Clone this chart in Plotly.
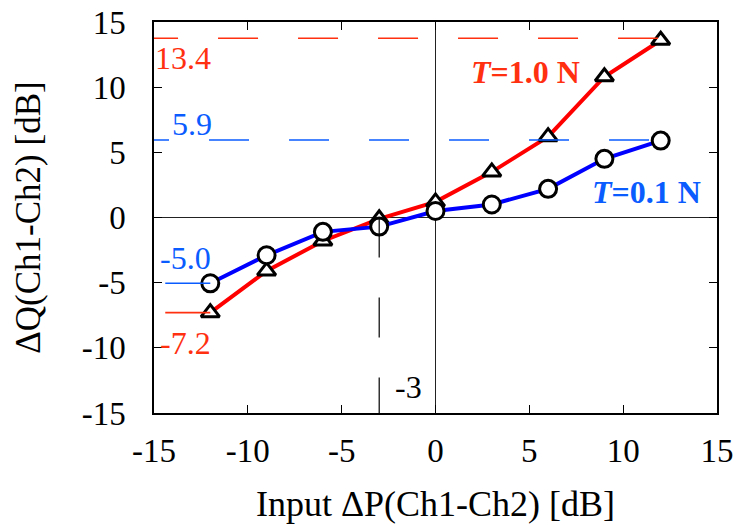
import plotly.graph_objects as go

# ---- data ----
x_input = [-12, -9, -6, -3, 0, 3, 6, 9, 12]
q_t10 = [-7.3, -4.1, -1.8, -0.1, 1.2, 3.5, 6.2, 10.8, 13.6]   # T=1.0 N (triangles)
q_t01 = [-5.05, -2.9, -1.1, -0.7, 0.5, 1.0, 2.2, 4.5, 5.9]    # T=0.1 N (circles)

ref_max_t10 = 13.75
ref_max_t01 = 5.95
ref_min_t10 = -7.3
ref_min_t01 = -5.05
ref_labels = ["13.4", "5.9", "-5.0", "-7.2"]
x_mark = -3
x_ticks = [-15, -10, -5, 0, 5, 10, 15]
y_ticks = [-15, -10, -5, 0, 5, 10, 15]

RED = "#ff0000"
BLUE = "#0000ff"
RED_T = "#ff3010"
BLUE_T = "#0a5cff"
FONT = "Liberation Serif"

fig = go.Figure()

fig.add_trace(go.Scatter(
    x=x_input, y=q_t10, mode="lines+markers",
    line=dict(color=RED, width=4),
    marker=dict(symbol="triangle-up", size=16, color="white",
                line=dict(color="black", width=3)),
    showlegend=False))
fig.add_trace(go.Scatter(
    x=x_input, y=q_t01, mode="lines+markers",
    line=dict(color=BLUE, width=4),
    marker=dict(symbol="circle", size=17, color="white",
                line=dict(color="black", width=3)),
    showlegend=False))

# dashed reference lines (clipped at the plot edge)
fig.add_trace(go.Scatter(x=[-15.85, 12], y=[ref_max_t10, ref_max_t10], mode="lines",
                         line=dict(color=RED_T, width=1.6, dash="40px,40px"),
                         showlegend=False, hoverinfo="skip"))
fig.add_trace(go.Scatter(x=[-16.33, 12], y=[ref_max_t01, ref_max_t01], mode="lines",
                         line=dict(color=BLUE_T, width=1.6, dash="40px,40px"),
                         showlegend=False, hoverinfo="skip"))
fig.add_trace(go.Scatter(x=[-14.4, -12], y=[ref_min_t01, ref_min_t01], mode="lines",
                         line=dict(color=BLUE_T, width=1.6),
                         showlegend=False, hoverinfo="skip"))
fig.add_trace(go.Scatter(x=[-14.4, -12], y=[ref_min_t10, ref_min_t10], mode="lines",
                         line=dict(color=RED_T, width=1.6),
                         showlegend=False, hoverinfo="skip"))
fig.add_trace(go.Scatter(x=[x_mark, x_mark], y=[0, -16], mode="lines",
                         line=dict(color="black", width=1.2, dash="40px,40px"),
                         showlegend=False, hoverinfo="skip"))

ann = [
    dict(x=-13.43, y=12.25, text=ref_labels[0], color=RED_T),
    dict(x=-13.0, y=7.15, text=ref_labels[1], color=BLUE_T),
    dict(x=-13.3, y=-3.08, text=ref_labels[2], color=BLUE_T),
    dict(x=-13.3, y=-9.6, text=ref_labels[3], color=RED_T),
    dict(x=-1.44, y=-13.04, text="-3", color="black"),
    dict(x=4.77, y=11.17, text="<b><i>T</i>=1.0 N</b>", color=RED_T),
    dict(x=11.24, y=1.98, text="<b><i>T</i>=0.1 N</b>", color=BLUE_T),
]
for a in ann:
    fig.add_annotation(x=a["x"], y=a["y"], text=a["text"], showarrow=False,
                       xanchor="center", yanchor="middle",
                       font=dict(family=FONT, size=32, color=a["color"]))

axis_common = dict(
    showgrid=False, ticks="inside", ticklen=8, tickwidth=1.2, tickcolor="black",
    showline=True, linecolor="black", linewidth=1.5, mirror="ticks",
    zeroline=True, zerolinecolor="#222222", zerolinewidth=1,
    tickfont=dict(family=FONT, size=33, color="black"),
    automargin=False, ticklabeloverflow="allow",
)
fig.update_xaxes(range=[-15, 15], tickvals=x_ticks, ticktext=[str(v) for v in x_ticks],
                 ticklabelstandoff=8,
                 title=dict(text="Input ΔP(Ch1-Ch2) [dB]", standoff=22,
                            font=dict(family=FONT, size=36, color="black")),
                 **axis_common)
fig.update_yaxes(range=[-15, 15], tickvals=y_ticks, ticktext=[str(v) for v in y_ticks],
                 ticklabelstandoff=20,
                 title=dict(text="ΔQ(Ch1-Ch2) [dB]", standoff=30,
                            font=dict(family=FONT, size=35, color="black")),
                 **axis_common)

fig.update_layout(
    width=734, height=519,
    margin=dict(l=146, r=25, t=14, b=114),
    paper_bgcolor="white", plot_bgcolor="white",
    font=dict(family=FONT),
)

fig.write_html("out.html")
